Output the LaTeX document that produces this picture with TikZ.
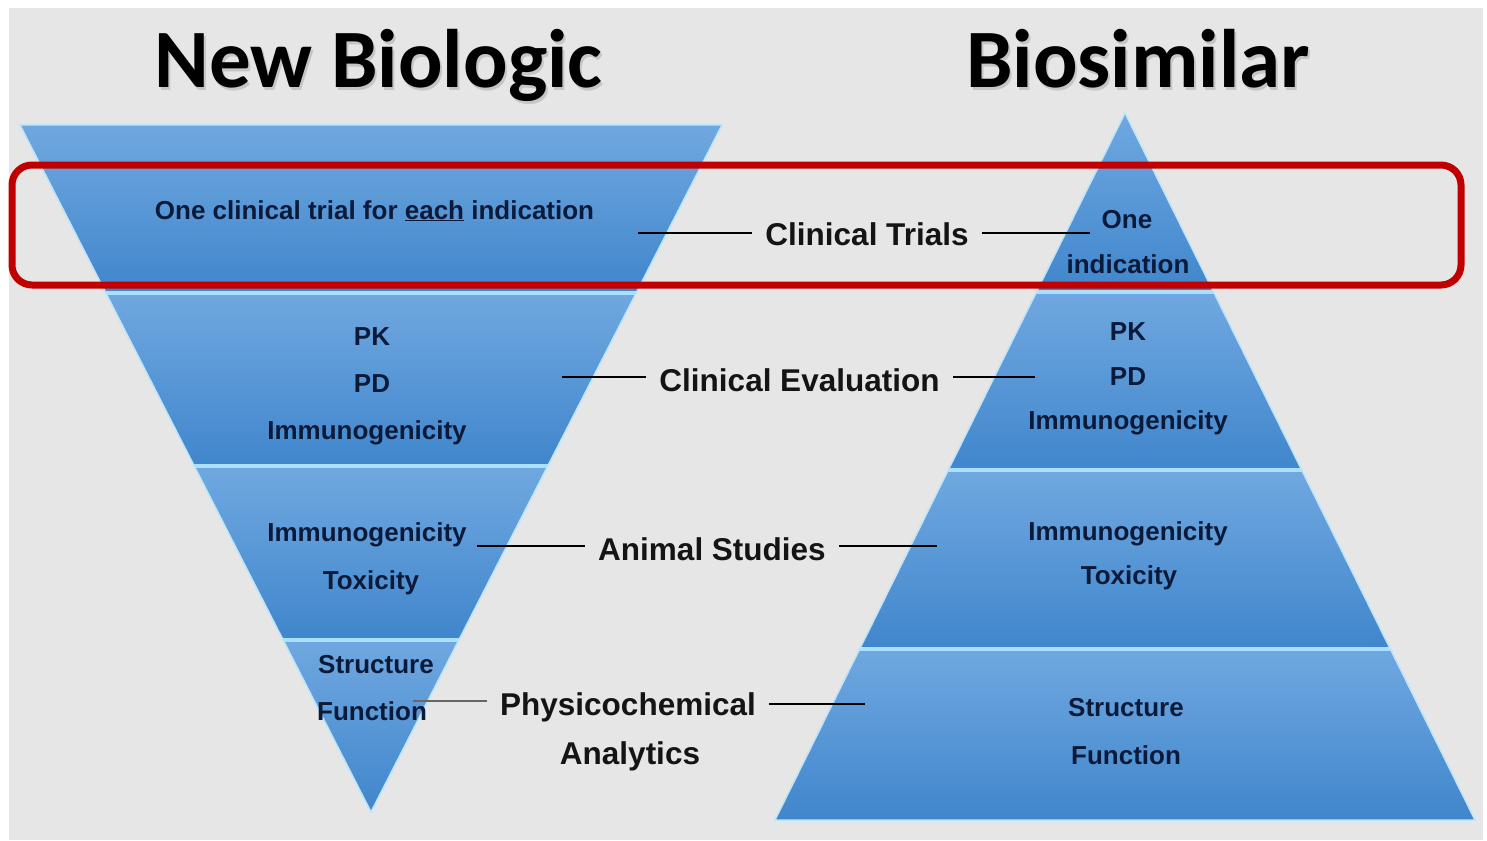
\documentclass[tikz,border=0pt]{standalone}
\usepackage{fontspec}
\setmainfont[BoldFont={Liberation Sans Bold}]{Liberation Sans}
\newfontfamily\titlefont[BoldFont={Carlito Bold}]{Carlito}

\definecolor{bg}{HTML}{E6E6E6}
\definecolor{bandtop}{RGB}{112,168,224}
\definecolor{bandbot}{RGB}{64,134,204}
\definecolor{sepline}{RGB}{170,224,252}
\definecolor{edgeglow}{RGB}{190,228,248}
\definecolor{navy}{RGB}{12,26,58}
\definecolor{boxred}{RGB}{192,0,0}

\begin{document}
\begin{tikzpicture}[x=1pt,y=-1pt,
  title/.style={font=\titlefont\bfseries\fontsize{83}{90}\selectfont, anchor=base, inner sep=0pt},
  stage/.style={font=\bfseries\fontsize{31.5}{38}\selectfont, text=black!92, anchor=base,
                inner xsep=13pt, inner ysep=0pt, text height=23pt, text depth=0pt},
  item/.style={font=\bfseries\fontsize{26}{30}\selectfont, text=navy, anchor=base, inner sep=0pt},
  link/.style={line width=2pt, black},
  band/.style={top color=bandtop, bottom color=bandbot},
  sep/.style={line width=4.5pt, sepline},
  rim/.style={edgeglow, line width=1.5pt, line join=miter},
]
\useasboundingbox (0,0) rectangle (1487,840);

% page and slide background
\fill[white] (0,0) rectangle (1487,840);
\fill[bg] (9,8) rectangle (1483,840);

% ---- inverted pyramid: new biologic ----
\begin{scope}
  \clip (20,125) -- (722,125) -- (371,812) -- cycle;
  \shade[band] (20,125) rectangle (722,293);
  \shade[band] (20,293) rectangle (722,466);
  \shade[band] (20,466) rectangle (722,640);
  \shade[band] (20,640) rectangle (722,812);
  \draw[sep] (20,293) -- (722,293);
  \draw[sep] (20,466) -- (722,466);
  \draw[sep] (20,640) -- (722,640);
\end{scope}
\draw[rim] (20,125) -- (722,125) -- (371,812) -- cycle;

% ---- upright pyramid: biosimilar ----
\begin{scope}
  \clip (1125,113) -- (1475,820) -- (775,820) -- cycle;
  \shade[band] (775,113) rectangle (1475,292);
  \shade[band] (775,292) rectangle (1475,470);
  \shade[band] (775,470) rectangle (1475,649);
  \shade[band] (775,649) rectangle (1475,820);
  \draw[sep] (775,292) -- (1475,292);
  \draw[sep] (775,470) -- (1475,470);
  \draw[sep] (775,649) -- (1475,649);
\end{scope}
\draw[rim] (1125,113) -- (1475,820) -- (775,820) -- cycle;

% ---- titles with soft drop shadow ----
\node[title, text=black!30, opacity=0.6] (tNewShadow) at (380.5,90.5) {New Biologic};
\node[title] (tNew) at (378.5,88) {New Biologic};
\node[title, text=black!30, opacity=0.6] (tBioShadow) at (1140,90.5) {Biosimilar};
\node[title] (tBio) at (1138,88) {Biosimilar};

% ---- contents of the inverted pyramid ----
\node[item] (nL1)  at (374.5,219) {One clinical trial for \underline{each} indication};
\node[item] (nL2a) at (372,345) {PK};
\node[item] (nL2b) at (372,392) {PD};
\node[item] (nL2c) at (367,439) {Immunogenicity};
\node[item] (nL3a) at (367,541) {Immunogenicity};
\node[item] (nL3b) at (371,589) {Toxicity};
\node[item] (nL4a) at (376,673) {Structure};
\node[item] (nL4b) at (372,720) {Function};

% ---- contents of the upright pyramid ----
\node[item] (nR1a) at (1127,228) {One};
\node[item] (nR1b) at (1128,273) {indication};
\node[item] (nR2a) at (1128,340) {PK};
\node[item] (nR2b) at (1128,385) {PD};
\node[item] (nR2c) at (1128,429) {Immunogenicity};
\node[item] (nR3a) at (1128,540) {Immunogenicity};
\node[item] (nR3b) at (1129,584) {Toxicity};
\node[item] (nR4a) at (1126,716) {Structure};
\node[item] (nR4b) at (1126,764) {Function};

% ---- stage labels between the pyramids ----
\node[stage] (lCT) at (867,245) {Clinical Trials};
\node[stage] (lCE) at (799.5,391) {Clinical Evaluation};
\node[stage] (lAS) at (712,560) {Animal Studies};
\node[stage] (lPC) at (628,715) {Physicochemical};
\node[stage] (lAN) at (630,764) {Analytics};

% free ends of the leader lines inside the pyramids
\coordinate (aCT) at (638,233);  \coordinate (bCT) at (1090,233);
\coordinate (aCE) at (562,377);  \coordinate (bCE) at (1035,377);
\coordinate (aAS) at (477,546);  \coordinate (bAS) at (937,546);
\coordinate (aPC) at (413,701);  \coordinate (bPC) at (865,704);

\draw[link] (aCT) -- (aCT -| lCT.west);
\draw[link] (bCT -| lCT.east) -- (bCT);
\draw[link] (aCE) -- (aCE -| lCE.west);
\draw[link] (bCE -| lCE.east) -- (bCE);
\draw[link] (aAS) -- (aAS -| lAS.west);
\draw[link] (bAS -| lAS.east) -- (bAS);
\draw[link, black!60] (aPC) -- (aPC -| lPC.west);
\draw[link] (bPC -| lPC.east) -- (bPC);

% ---- highlight around the clinical trials row ----
\draw[boxred, line width=7pt, rounded corners=20pt] (12,165) rectangle (1461,285);
\end{tikzpicture}
\end{document}
